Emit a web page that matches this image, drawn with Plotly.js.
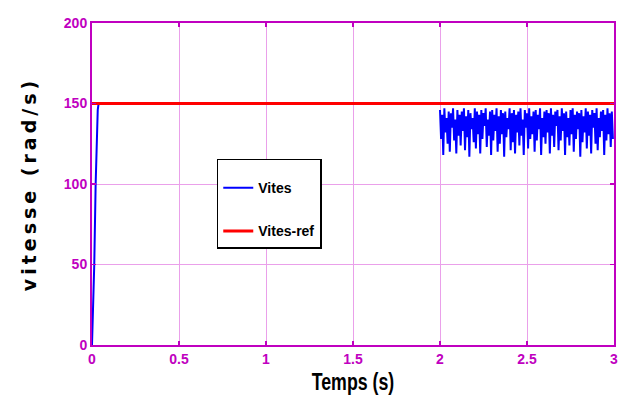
<!DOCTYPE html>
<html><head><meta charset="utf-8">
<script src="https://cdn.plot.ly/plotly-3.0.1.min.js"></script>
<style>
html,body{margin:0;padding:0;background:#fff;}
#chart{width:629px;height:416px;}
.ytitle{letter-spacing:4px;}
.xtitle{transform-box:fill-box;transform-origin:center;transform:scaleX(0.74);}
</style>
</head><body>
<div id="chart"></div>
<script>
// Vites: start-up transient and steady part
const tStart = [0, 0.005, 0.013, 0.021, 0.028, 0.033, 0.038, 2.0];
const vStart = [0, 20, 50, 100, 135, 146, 150, 150];
// Vites: oscillating part from t = 2 s (sampled every tStep)
const tOscStart = 2.0;
const tStep = 0.00625;
const vOsc = [
146,128, 143,118, 147,132, 141,125, 145,120, 144,135, 147,127, 140,119, 146,130, 143,124,
145,133, 147,121, 142,129, 146,117, 144,134, 141,126, 147,122, 145,131, 143,119, 146,128,
144,136, 147,123, 140,130, 145,118, 146,127, 143,133, 147,120, 142,125, 146,131, 144,117,
145,129, 141,134, 147,121, 144,126, 146,119, 143,132, 145,124, 147,130, 140,118, 146,135,
144,122, 147,128, 142,131, 145,120, 146,127, 143,134, 147,118, 141,129, 145,125, 146,132,
144,119, 147,130, 143,123, 145,136, 146,121, 142,127, 147,133, 144,118, 145,129, 141,124,
146,131, 147,120, 143,128, 145,134, 144,117, 146,126, 142,132, 147,122, 145,130, 143,119,
146,135, 144,125, 147,121, 141,129, 145,133, 146,118, 143,127, 147,131, 144,123, 145,128
];
// Vites-ref
const tRef = [0, 3];
const vRef = [150, 150];

const xTicks = [0, 0.5, 1, 1.5, 2, 2.5, 3];
const xTickText = ['0', '0.5', '1', '1.5', '2', '2.5', '3'];
const yTicks = [0, 50, 100, 150, 200];

const magenta = '#c000c0';
const gridCol = '#eaa0ea';
const narrow = '"Liberation Sans Narrow", "Arial Narrow", "Liberation Sans", Arial, sans-serif';

const traces = [
  {x: tStart, y: vStart, mode: 'lines', name: 'Vites', legendgroup: 'a',
   line: {color: '#0000ff', width: 2}},
  {x0: tOscStart, dx: tStep, y: vOsc, mode: 'lines', name: 'Vites', legendgroup: 'a',
   showlegend: false, line: {color: '#0000ff', width: 2}},
  {x: tRef, y: vRef, mode: 'lines', name: 'Vites-ref', legendgroup: 'b',
   line: {color: '#ff0000', width: 3}}
];

const axisCommon = {
  showline: true, linecolor: magenta, linewidth: 2, mirror: 'ticks',
  ticks: 'inside', ticklen: 4, tickcolor: magenta, tickwidth: 1.5,
  showgrid: true, gridcolor: gridCol, gridwidth: 1, zeroline: false,
  tickfont: {family: narrow, size: 14, color: magenta, weight: 'bold'}
};

const layout = {
  width: 629, height: 416,
  margin: {l: 92, r: 15, t: 23, b: 71},
  paper_bgcolor: '#fff', plot_bgcolor: '#fff',
  showlegend: true,
  xaxis: Object.assign({}, axisCommon, {
    range: [0, 3], tickvals: xTicks, ticktext: xTickText,
    title: {text: 'Temps (s)', standoff: 7,
      font: {family: narrow, size: 24, color: '#000', weight: 'bold'}}
  }),
  yaxis: Object.assign({}, axisCommon, {
    range: [0, 200], tickvals: yTicks,
    title: {text: 'vitesse (rad/s)', standoff: 22,
      font: {family: 'DejaVu Sans, Arial, sans-serif', size: 19, color: '#000', weight: 'bold'}}
  }),
  legend: {
    x: 0.239, y: 0.578, xanchor: 'left', yanchor: 'top',
    bgcolor: '#fff', bordercolor: '#000', borderwidth: 1.5,
    font: {family: narrow, size: 14, color: '#000', weight: 'bold'},
    traceorder: 'grouped', tracegroupgap: 22,
    title: {text: ' ', font: {size: 9}},
    itemwidth: 30
  }
};

Plotly.newPlot('chart', traces, layout, {displayModeBar: false, staticPlot: true});
</script>
</body></html>
